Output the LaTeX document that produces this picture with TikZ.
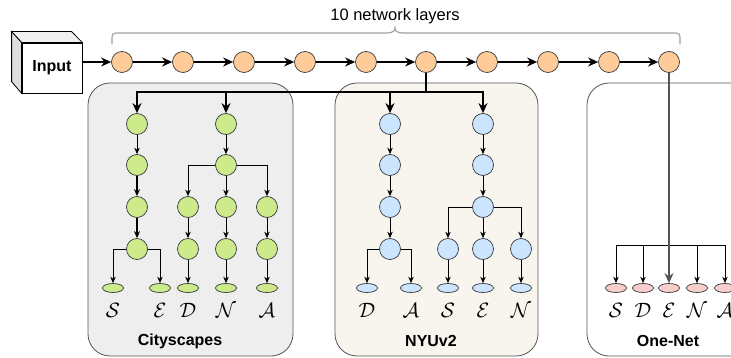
\documentclass[tikz,border=0pt]{standalone}
\usepackage{fontspec}
\setmainfont{Liberation Sans}
\usetikzlibrary{arrows.meta,shapes.geometric}

\definecolor{strokegrey}{HTML}{36393D}
\definecolor{orangefill}{HTML}{FFCC99}
\definecolor{greenfill}{HTML}{CDEB8B}
\definecolor{bluefill}{HTML}{CCE5FF}
\definecolor{pinkfill}{HTML}{F8CECC}
\definecolor{cityfill}{HTML}{EEEEEE}
\definecolor{nyufill}{HTML}{F7F5EE}
\definecolor{boxline}{HTML}{555555}
\definecolor{bracegrey}{HTML}{A0A0A0}

\tikzset{
  layer/.style={circle, draw=strokegrey, fill=orangefill, minimum size=21pt, inner sep=0pt, line width=0.7pt},
  gnode/.style={layer, fill=greenfill},
  bnode/.style={layer, fill=bluefill},
  headg/.style={ellipse, draw=strokegrey, fill=greenfill, minimum width=21pt, minimum height=9pt, inner sep=0pt, line width=0.7pt},
  headb/.style={headg, fill=bluefill},
  headp/.style={headg, fill=pinkfill},
  task/.style={font=\fontsize{22}{22}\selectfont, inner sep=0pt},
  boxlabel/.style={font=\fontsize{16}{16}\selectfont\bfseries, inner sep=0pt},
  container/.style={draw=boxline, line width=0.8pt, rounded corners=22pt},
  mainarrow/.style={line width=1.8pt, -{Stealth[length=10pt,width=9pt]}},
  midarrow/.style={line width=1.3pt, -{Stealth[length=7pt,width=6pt]}},
  thinarrow/.style={line width=0.8pt, -{Stealth[length=6.5pt,width=5.5pt]}},
}

\begin{document}
\begin{tikzpicture}[x=1pt,y=-1pt]
\useasboundingbox (0,0) rectangle (731,358);
\clip (0,0) rectangle (731,358);

% dataset containers
\draw[container, fill=cityfill] (88,83) rectangle (293,356);
\draw[container, fill=nyufill] (335,83) rectangle (538,356);
\draw[container, fill=white] (587,83) rectangle (770,356);

% input cube
\node[draw=black, fill=white, line width=0.8pt, minimum width=60pt, minimum height=50pt,
      font=\fontsize{16}{16}\selectfont\bfseries] (input) at (52,68) {Input};
\draw[line width=0.8pt, fill=black!6] (input.north west) -- ++(-10,-11) -- ++(60,0) -- (input.north east) -- cycle;
\draw[line width=0.8pt, fill=black!13] (input.north west) -- ++(-10,-11) -- ++(0,50) -- (input.south west) -- cycle;

% shared network layers
\foreach \i/\x in {1/122,2/183,3/244,4/305,5/366,6/426,7/487,8/548,9/609,10/669}
  \node[layer] (o\i) at (\x,62) {};
\draw[mainarrow] (input.east |- o1) -- (o1.west);
\foreach \i [evaluate=\i as \j using int(\i+1)] in {1,...,9}
  \draw[mainarrow] (o\i.east) -- (o\j.west);

% brace over the layers
\draw[bracegrey, line width=1.2pt, line cap=round]
  (112,44) -- (112,41) .. controls (112,33) and (112,33) .. (120,33)
  -- (386,33) .. controls (393,33) and (395,31) .. (395,28)
  .. controls (395,31) and (397,33) .. (404,33)
  -- (672,33) .. controls (680,33) and (680,33) .. (680,41) -- (680,44);
\node[font=\fontsize{16.5}{16.5}\selectfont, inner sep=0pt] (title) at (395,16) {10 network layers};

% Cityscapes branches
\node[gnode] (cA1) at (137,124) {};
\node[gnode] (cA2) at (137,165) {};
\node[gnode] (cA3) at (137,207) {};
\node[gnode] (cA4) at (137,249) {};
\node[gnode] (cB1) at (226,124) {};
\node[gnode] (cB2) at (226,165) {};
\node[gnode] (cD1) at (188,207) {};
\node[gnode] (cD2) at (188,249) {};
\node[gnode] (cN1) at (226,207) {};
\node[gnode] (cN2) at (226,249) {};
\node[gnode] (cT1) at (267,207) {};
\node[gnode] (cT2) at (267,249) {};
\node[headg] (cS) at (113,288) {};
\node[headg] (cE) at (160,288) {};
\node[headg] (cD) at (188,288) {};
\node[headg] (cN) at (226,288) {};
\node[headg] (cT) at (267,288) {};
\node[task] at (113,310) {$\mathcal{S}$};
\node[task] at (160,310) {$\mathcal{E}$};
\node[task] at (188,310) {$\mathcal{D}$};
\node[task] at (226,310) {$\mathcal{N}$};
\node[task] at (267,310) {$\mathcal{A}$};

\draw[thinarrow] (cA1) -- (cA2);
\draw[midarrow] (cA2) -- (cA3);
\draw[midarrow] (cA3) -- (cA4);
\draw[thinarrow] (cA4.west) -| (cS.north);
\draw[thinarrow] (cA4.east) -| (cE.north);
\draw[thinarrow] (cB1) -- (cB2);
\draw[thinarrow] (cB2.west) -| (cD1.north);
\draw[thinarrow] (cB2) -- (cN1);
\draw[thinarrow] (cB2.east) -| (cT1.north);
\draw[thinarrow] (cD1) -- (cD2);
\draw[thinarrow] (cN1) -- (cN2);
\draw[thinarrow] (cT1) -- (cT2);
\draw[thinarrow] (cD2) -- (cD);
\draw[thinarrow] (cN2) -- (cN);
\draw[thinarrow] (cT2) -- (cT);
\node[boxlabel] (citylabel) at (180,341) {Cityscapes};

% NYUv2 branches
\node[bnode] (nA1) at (390,124) {};
\node[bnode] (nA2) at (390,165) {};
\node[bnode] (nA3) at (390,207) {};
\node[bnode] (nA4) at (390,249) {};
\node[bnode] (nB1) at (483,124) {};
\node[bnode] (nB2) at (483,165) {};
\node[bnode] (nB3) at (483,207) {};
\node[bnode] (nS1) at (448,249) {};
\node[bnode] (nE1) at (483,249) {};
\node[bnode] (nN1) at (521,249) {};
\node[headb] (nD) at (367,288) {};
\node[headb] (nA) at (411,288) {};
\node[headb] (nS) at (448,288) {};
\node[headb] (nE) at (483,288) {};
\node[headb] (nN) at (521,288) {};
\node[task] at (367,310) {$\mathcal{D}$};
\node[task] at (411,310) {$\mathcal{A}$};
\node[task] at (448,310) {$\mathcal{S}$};
\node[task] at (483,310) {$\mathcal{E}$};
\node[task] at (521,310) {$\mathcal{N}$};

\draw[thinarrow] (nA1) -- (nA2);
\draw[thinarrow] (nA2) -- (nA3);
\draw[thinarrow] (nA3) -- (nA4);
\draw[thinarrow] (nA4.west) -| (nD.north);
\draw[thinarrow] (nA4.east) -| (nA.north);
\draw[thinarrow] (nB1) -- (nB2);
\draw[thinarrow] (nB2) -- (nB3);
\draw[thinarrow] (nB3.west) -| (nS1.north);
\draw[thinarrow] (nB3) -- (nE1);
\draw[thinarrow] (nB3.east) -| (nN1.north);
\draw[thinarrow] (nS1) -- (nS);
\draw[thinarrow] (nE1) -- (nE);
\draw[thinarrow] (nN1) -- (nN);
\node[boxlabel] (nyulabel) at (431,341) {NYUv2};

% branching bus from layer 6
\coordinate (bus) at (426,92);
\draw[line width=1.8pt] (o6.south) -- (bus);
\draw[mainarrow] (bus) -| (cA1.north);
\draw[mainarrow] (bus) -| (cB1.north);
\draw[mainarrow] (bus) -| (nA1.north);
\draw[mainarrow] (bus) -| (nB1.north);

% One-Net heads
\node[headp] (pS) at (616,288) {};
\node[headp] (pD) at (643,288) {};
\node[headp] (pE) at (669,288) {};
\node[headp] (pN) at (697,288) {};
\node[headp] (pA) at (725,288) {};
\node[task] at (616,310) {$\mathcal{S}$};
\node[task] at (643,310) {$\mathcal{D}$};
\node[task] at (669,310) {$\mathcal{E}$};
\node[task] at (697,310) {$\mathcal{N}$};
\node[task] at (725,310) {$\mathcal{A}$};
\coordinate (split) at (669,245);
\foreach \h in {pS,pD,pN,pA}
  \draw[thinarrow] (split) -| (\h.north);
\draw[mainarrow, draw=boxline, fill=boxline] (o10.south) -- (pE.north);
\node[boxlabel] (onelabel) at (668,341) {One-Net};
\end{tikzpicture}
\end{document}
